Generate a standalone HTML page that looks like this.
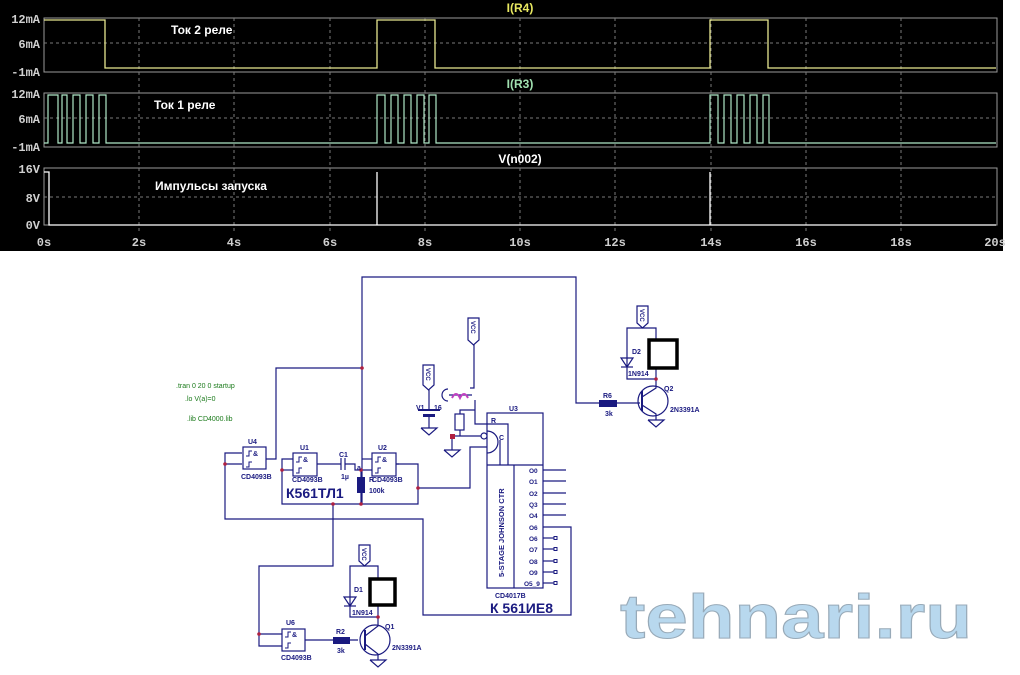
<!DOCTYPE html>
<html><head><meta charset="utf-8"><style>
html,body{margin:0;padding:0;background:#fff;width:1020px;height:675px;overflow:hidden}
svg{display:block}
</style></head><body>
<svg width="1020" height="675" viewBox="0 0 1020 675" xmlns="http://www.w3.org/2000/svg" font-family="Liberation Sans, sans-serif">
<rect x="0" y="0" width="1003" height="251" fill="#000"/>
<g fill="none" stroke="#9a9a9a" stroke-width="1">
<rect x="44" y="18" width="953" height="54"/>
<rect x="44" y="93" width="953" height="54"/>
<rect x="44" y="168" width="953" height="57"/>
</g>
<g stroke="#7a7a7a" stroke-dasharray="3,3" stroke-width="1">
<line x1="44" y1="43" x2="997" y2="43"/>
<line x1="44" y1="118" x2="997" y2="118"/>
<line x1="44" y1="197" x2="997" y2="197"/>
<line x1="139" y1="18" x2="139" y2="232"/><line x1="234" y1="18" x2="234" y2="232"/>
<line x1="330" y1="18" x2="330" y2="232"/><line x1="425" y1="18" x2="425" y2="232"/>
<line x1="520" y1="18" x2="520" y2="232"/><line x1="615" y1="18" x2="615" y2="232"/>
<line x1="711" y1="18" x2="711" y2="232"/><line x1="806" y1="18" x2="806" y2="232"/>
<line x1="901" y1="18" x2="901" y2="232"/>
</g>
<g font-size="12" font-weight="bold" fill="#d0d0d0" font-family="Liberation Mono, monospace">
<text x="40" y="23" text-anchor="end">12mA</text><text x="40" y="48" text-anchor="end">6mA</text><text x="40" y="76" text-anchor="end">-1mA</text>
<text x="40" y="98" text-anchor="end">12mA</text><text x="40" y="123" text-anchor="end">6mA</text><text x="40" y="151" text-anchor="end">-1mA</text>
<text x="40" y="173" text-anchor="end">16V</text><text x="40" y="202" text-anchor="end">8V</text><text x="40" y="229" text-anchor="end">0V</text>
<g text-anchor="middle"><text x="44" y="246">0s</text><text x="139" y="246">2s</text><text x="234" y="246">4s</text><text x="330" y="246">6s</text><text x="425" y="246">8s</text><text x="520" y="246">10s</text><text x="615" y="246">12s</text><text x="711" y="246">14s</text><text x="806" y="246">16s</text><text x="901" y="246">18s</text><text x="995" y="246">20s</text></g>
</g>
<g font-size="12" font-weight="bold" text-anchor="middle">
<text x="520" y="12" fill="#e8e860">I(R4)</text>
<text x="520" y="88" fill="#a0e0b0">I(R3)</text>
<text x="520" y="163" fill="#fff">V(n002)</text>
</g>
<g font-size="12" font-weight="bold" fill="#fff">
<text x="171" y="34">Ток 2 реле</text>
<text x="154" y="109">Ток 1 реле</text>
<text x="155" y="190">Импульсы запуска</text>
</g>
<polyline fill="none" stroke="#e8e890" stroke-width="1.3" points="44,20 105,20 105,68 377,68 377,20 435,20 435,68 710,68 710,20 768,20 768,68 996,68"/>
<polyline fill="none" stroke="#b0e8c8" stroke-width="1.2" points="44,143 48,143 48,95 58,95 58,143 62,143 62,95 67,95 67,143 73,143 73,95 80,95 80,143 86,143 86,95 93,95 93,143 99,143 99,95 106,95 106,143 377,143 377,95 385,95 385,143 391,143 391,95 398,95 398,143 404,143 404,95 411,95 411,143 417,143 417,95 424,95 424,143 429,143 429,95 436,95 436,143 710,143 710,95 718,95 718,143 724,143 724,95 731,95 731,143 737,143 737,95 744,95 744,143 750,143 750,95 757,95 757,143 763,143 763,95 769,95 769,143 996,143"/>
<polyline fill="none" stroke="#fff" stroke-width="1.3" points="44,172 49,172 49,225 996,225"/>
<line x1="377" y1="172" x2="377" y2="225" stroke="#fff" stroke-width="1.3"/>
<line x1="710" y1="172" x2="710" y2="225" stroke="#fff" stroke-width="1.3"/>

<g fill="none" stroke="#1a1a80" stroke-width="1.2">
<polyline points="362,504 362,277 576,277 576,403 599,403"/>
<polyline points="362,368 276,368 276,459 266,459"/>
<polyline points="242,453 225,453 225,519 423,519 423,615 571,615 571,527 543,527"/>
<line x1="225" y1="464" x2="242" y2="464"/>
<rect x="243" y="447" width="23" height="22"/>
<polyline points="293,459 282,459 282,504 418,504 418,464 396,464"/>
<line x1="282" y1="470" x2="293" y2="470"/>
<rect x="293" y="453" width="24" height="23"/>
<polyline points="317,464 341,464"/><line x1="341" y1="458" x2="341" y2="470"/><line x1="345" y1="458" x2="345" y2="470"/>
<polyline points="345,464 355,464 355,470 372,470"/>
<line x1="361" y1="470" x2="361" y2="504"/>
<line x1="362" y1="459" x2="372" y2="459"/>
<rect x="372" y="453" width="24" height="23"/>
<polyline points="418,488 470,488 470,447 487,447"/>
<polyline points="333,504 333,566 259,566 259,646 282,646"/>
<line x1="259" y1="634" x2="282" y2="634"/>
<rect x="282" y="629" width="23" height="22"/>
<line x1="305" y1="640" x2="358" y2="640"/>
<circle cx="375" cy="640" r="15"/>
<line x1="365" y1="630" x2="365" y2="650" stroke-width="2"/>
<polyline points="365,636 378,626 378,617"/><polyline points="365,644 378,654 378,660"/>
<polyline points="365,566 350,566 350,617 378,617 378,605"/><polyline points="365,566 378,566 378,578"/>
<polygon points="344,597 356,597 350,606"/><line x1="344" y1="606" x2="356" y2="606"/>
<path d="M359,545 h11 v16 l-5.5,5 l-5.5,-5 z"/>
<polyline points="370,660 386,660 378,667 370,660"/>
<rect x="487" y="413" width="56" height="175"/>
<line x1="487" y1="465" x2="543" y2="465"/>
<line x1="514" y1="465" x2="514" y2="588"/>
<polyline points="487,424 508,424 508,465"/>
<path d="M487,431 a11,11 0 0 1 0,22"/>
<line x1="500" y1="440" x2="500" y2="465"/>
<circle cx="484" cy="436" r="3" fill="#fff"/>
<polyline points="452,436 481,436"/><polyline points="452,436 452,450"/>
<polyline points="444,450 460,450 452,457 444,450"/>
<rect x="455" y="414" width="9" height="16"/>
<polyline points="460,414 460,410 475,410"/><polyline points="460,430 460,436"/>
<polyline points="475,400 475,424 487,424"/>
<polyline points="474,345 474,388 470,388"/>
<path d="M468,318 h11 v22 l-5.5,5 l-5.5,-5 z"/>
<path d="M448,389 a6,6 0 0 0 0,12"/>
<line x1="449" y1="395" x2="472" y2="395"/>
<path d="M423,365 h11 v20 l-5.5,5 l-5.5,-5 z"/>
<line x1="429" y1="390" x2="429" y2="410"/><line x1="429" y1="416" x2="429" y2="428"/>
<polyline points="421,428 437,428 429,435 421,428"/>
<line x1="543" y1="470" x2="566" y2="470"/><line x1="543" y1="481" x2="566" y2="481"/><line x1="543" y1="493" x2="566" y2="493"/><line x1="543" y1="504" x2="566" y2="504"/><line x1="543" y1="515" x2="566" y2="515"/>
<line x1="543" y1="538" x2="554" y2="538"/><line x1="543" y1="549" x2="554" y2="549"/><line x1="543" y1="561" x2="554" y2="561"/><line x1="543" y1="572" x2="554" y2="572"/><line x1="543" y1="583" x2="554" y2="583"/>
<g stroke-width="1"><rect x="554" y="536.5" width="3" height="3"/><rect x="554" y="547.5" width="3" height="3"/><rect x="554" y="559.5" width="3" height="3"/><rect x="554" y="570.5" width="3" height="3"/><rect x="554" y="581.5" width="3" height="3"/></g>
<line x1="617" y1="403" x2="640" y2="403"/>
<circle cx="653" cy="401" r="15"/>
<line x1="642" y1="391" x2="642" y2="411" stroke-width="2"/>
<polyline points="642,397 656,388 656,379"/><polyline points="642,405 656,414 656,420"/>
<polyline points="643,328 627,328 627,379 656,379 656,368"/><polyline points="643,328 656,328 656,339"/>
<polygon points="621,358 633,358 627,367"/><line x1="621" y1="367" x2="633" y2="367"/>
<path d="M637,306 h11 v17 l-5.5,5 l-5.5,-5 z"/>
<polyline points="648,420 664,420 656,427 648,420"/>
<!-- schmitt glyphs -->
<g stroke-width="1">
<path d="M246,456 h3 v-5 h3"/><path d="M246,467 h3 v-5 h3"/>
<path d="M296,462 h3 v-5 h3"/><path d="M296,473 h3 v-5 h3"/>
<path d="M375,462 h3 v-5 h3"/><path d="M375,473 h3 v-5 h3"/>
<path d="M285,637 h3 v-5 h3"/><path d="M285,648 h3 v-5 h3"/>
</g>
<line x1="396" y1="464" x2="399" y2="464"/>
</g>
<g stroke="#c040c0" stroke-width="2" fill="none"><path d="M452,398 q4,-8 8,0 q4,-8 8,0"/></g>
<rect x="370" y="579" width="25" height="26" fill="none" stroke="#000" stroke-width="3.5"/>
<rect x="649" y="340" width="28" height="28" fill="none" stroke="#000" stroke-width="3.5"/>
<rect x="357" y="477" width="8" height="16" fill="#1a1a80"/>
<rect x="333" y="637" width="17" height="7" fill="#1a1a80"/>
<rect x="599" y="400" width="18" height="7" fill="#1a1a80"/>
<rect x="418" y="409" width="22" height="2" fill="#1a1a80"/><rect x="423" y="414" width="12" height="3" fill="#1a1a80"/>
<g fill="#b02040">
<circle cx="362" cy="368" r="1.8"/><circle cx="225" cy="464" r="1.8"/><circle cx="282" cy="470" r="1.8"/><circle cx="361" cy="470" r="1.8"/><circle cx="361" cy="504" r="1.8"/><circle cx="333" cy="504" r="1.8"/><circle cx="418" cy="488" r="1.8"/><circle cx="259" cy="634" r="1.8"/><circle cx="378" cy="617" r="1.8"/><circle cx="656" cy="379" r="1.8"/><rect x="450" y="434" width="5" height="5"/>
</g>
<g font-size="7" font-weight="bold" fill="#1a1a80">
<text x="253" y="456">&amp;</text><text x="303" y="462">&amp;</text><text x="382" y="462">&amp;</text><text x="292" y="637">&amp;</text>
<text x="248" y="444">U4</text><text x="241" y="479">CD4093B</text>
<text x="300" y="450">U1</text><text x="292" y="482">CD4093B</text>
<text x="339" y="457">C1</text><text x="341" y="479">1µ</text>
<text x="357" y="470">a</text><text x="369" y="482">R</text><text x="372" y="482">CD4093B</text><text x="369" y="493">100k</text>
<text x="378" y="450">U2</text>
<text x="286" y="625">U6</text><text x="281" y="660">CD4093B</text>
<text x="336" y="634">R2</text><text x="337" y="653">3k</text>
<text x="354" y="592">D1</text><text x="352" y="615">1N914</text><text x="385" y="629">Q1</text><text x="392" y="650">2N3391A</text>
<text x="416" y="410">V1</text><text x="434" y="410">16</text>
<text x="509" y="411">U3</text><text x="491" y="423">R</text><text x="499" y="440">C</text>
<text x="495" y="598">CD4017B</text>
<text x="632" y="354">D2</text><text x="628" y="376">1N914</text><text x="603" y="398">R6</text><text x="605" y="416">3k</text><text x="664" y="391">Q2</text><text x="670" y="412">2N3391A</text>
<g font-size="6.5"><text x="529" y="473">O0</text><text x="529" y="484">O1</text><text x="529" y="496">O2</text><text x="529" y="507">Q3</text><text x="529" y="518">O4</text><text x="529" y="530">O6</text><text x="529" y="541">O6</text><text x="529" y="552">O7</text><text x="529" y="564">O8</text><text x="529" y="575">O9</text><text x="524" y="586">O5_9</text></g>
<text transform="translate(504,577) rotate(-90)" font-size="7.5">5-STAGE JOHNSON CTR</text>
</g>
<g font-size="6" font-weight="bold" fill="#1a1a80">
<text transform="translate(362,548) rotate(90)">VCC</text>
<text transform="translate(471,321) rotate(90)">VCC</text>
<text transform="translate(426,368) rotate(90)">VCC</text>
<text transform="translate(640,309) rotate(90)">VCC</text>
</g>
<g font-size="14" font-weight="bold" fill="#1a1a80">
<text x="286" y="498">К561ТЛ1</text><text x="490" y="613">К 561ИЕ8</text>
</g>
<g font-size="7" fill="#1a7a1a">
<text x="176" y="388">.tran 0 20 0 startup</text><text x="185" y="401">.lo V(a)=0</text><text x="187" y="421">.lib CD4000.lib</text>
</g>
<text x="620" y="638" font-family="Liberation Sans, sans-serif" font-weight="bold" font-size="62" fill="#b8d8ee" stroke="#98aab8" stroke-width="1" textLength="352" lengthAdjust="spacingAndGlyphs">tehnari.ru</text>
</svg>
</body></html>
